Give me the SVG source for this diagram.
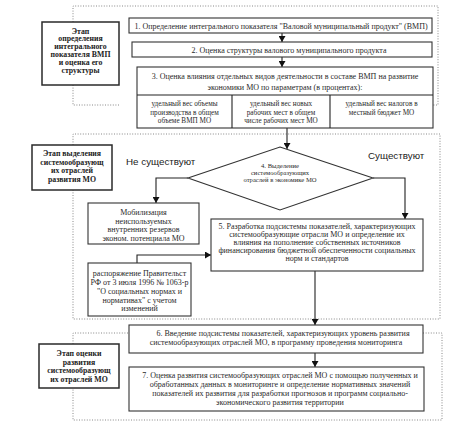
<svg xmlns="http://www.w3.org/2000/svg" width="460" height="429" viewBox="0 0 460 429">
<style>
.bg{fill:#fff}
.box{fill:#fff;stroke:#333;stroke-width:1.1}
.stage{fill:#fff;stroke:#2a2a2a;stroke-width:1.5}
.dot{fill:none;stroke:#888;stroke-width:1;stroke-dasharray:1 1.6}
.ln{fill:none;stroke:#222;stroke-width:1.1}
.t{font-family:"Liberation Serif","Times New Roman",serif;font-size:8px;fill:#2a2a2a;text-anchor:middle}
.s{font-size:7.2px}
.d{font-size:6.6px}
.b{font-family:"Liberation Serif","Times New Roman",serif;font-size:7.8px;font-weight:bold;fill:#222;text-anchor:middle}
.lab{font-family:"Liberation Sans",Arial,sans-serif;font-size:9.8px;fill:#222}
</style>
<defs>
<marker id="ah" markerUnits="userSpaceOnUse" markerWidth="6" markerHeight="7" refX="6" refY="3.5" orient="auto">
<path d="M0,0 L6,3.5 L0,7 z" fill="#111"/>
</marker>
</defs>
<rect class="bg" width="460" height="429"/>

<g id="stage-groups">
<path class="dot" d="M73,22 V6 H438 V105 H137 M119,105 H73 V85"/>
<path class="dot" d="M73,145 V134 H440 V319 H73 V190"/>
<path class="dot" d="M73,344 V333 H129 M423,333 H442 V420 H73 V388"/>
</g>

<g id="connectors">
<line class="ln" x1="282" y1="33" x2="282" y2="42" marker-end="url(#ah)"/>
<line class="ln" x1="282" y1="57" x2="282" y2="67" marker-end="url(#ah)"/>
<line class="ln" x1="287" y1="128" x2="287" y2="149" marker-end="url(#ah)"/>
<path class="ln" d="M188,178 H156 V203" marker-end="url(#ah)"/>
<path class="ln" d="M373,178 H405 V219" marker-end="url(#ah)"/>
<path class="ln" d="M137,263 V255 H211" marker-end="url(#ah)"/>
<line class="ln" x1="315" y1="271" x2="315" y2="325" marker-end="url(#ah)"/>
<line class="ln" x1="315" y1="353" x2="315" y2="367" marker-end="url(#ah)"/>
</g>

<g id="stage1">
<rect class="stage" x="42" y="22" width="77" height="63"/>
<text class="b" x="80.5" y="33.5">Этап</text>
<text class="b" x="80.5" y="41.3">определения</text>
<text class="b" x="80.5" y="49.1">интегрального</text>
<text class="b" x="80.5" y="56.9">показателя ВМП</text>
<text class="b" x="80.5" y="64.7">и оценка его</text>
<text class="b" x="80.5" y="72.5">структуры</text>
</g>

<g id="node1">
<rect class="box" x="129" y="18" width="303" height="15"/>
<text class="t" x="281" y="28.5">1.  Определение интегрального показателя "Валовой муниципальный продукт" (ВМП)</text>
</g>

<g id="node2">
<rect class="box" x="132" y="42" width="300" height="15"/>
<text class="t" x="289" y="52.5">2. Оценка структуры валового муниципального продукта</text>
</g>

<g id="node3">
<rect class="box" x="137" y="67" width="296" height="61"/>
<line class="ln" x1="137" y1="95" x2="433" y2="95"/>
<line class="ln" x1="232" y1="95" x2="232" y2="128"/>
<line class="ln" x1="330" y1="95" x2="330" y2="128"/>
<text class="t" x="285" y="79">3. Оценка влияния отдельных видов деятельности в составе ВМП  на развитие</text>
<text class="t" x="285" y="90">экономики МО по параметрам (в процентах):</text>
<text class="t s" x="184.5" y="106">удельный вес объемы</text>
<text class="t s" x="184.5" y="114.5">производства в общем</text>
<text class="t s" x="184.5" y="123">объеме ВМП МО</text>
<text class="t s" x="281" y="106">удельный вес   новых</text>
<text class="t s" x="281" y="114.5">рабочих мест в общем</text>
<text class="t s" x="281" y="123">числе рабочих мест МО</text>
<text class="t s" x="381.5" y="106">удельный вес  налогов в</text>
<text class="t s" x="381.5" y="114.5">местный бюджет МО</text>
</g>

<g id="stage2">
<rect class="stage" x="32" y="145" width="80" height="45"/>
<text class="b" x="72" y="156">Этап выделения</text>
<text class="b" x="72" y="164.5">системообразующ</text>
<text class="b" x="72" y="173">их отраслей</text>
<text class="b" x="72" y="181.5">развития МО</text>
</g>

<g id="node4">
<path class="box" d="M280,147 L373,178 L280,210 L188,178 Z"/>
<text class="t d" x="280" y="168">4. Выделение</text>
<text class="t d" x="280" y="175">системообразующих</text>
<text class="t d" x="280" y="182">отраслей в экономике МО</text>
</g>

<g id="labels">
<text class="lab" x="126" y="164.5">Не существуют</text>
<text class="lab" x="368" y="158.5">Существуют</text>
</g>

<g id="mobilization">
<rect class="box" x="88" y="203" width="111" height="41"/>
<text class="t" x="143.5" y="215">Мобилизация</text>
<text class="t" x="143.5" y="223.5">неиспользуемых</text>
<text class="t" x="143.5" y="232">внутренних резервов</text>
<text class="t" x="143.5" y="240.5">эконом. потенциала МО</text>
</g>

<g id="node5">
<rect class="box" x="211" y="219" width="212" height="52"/>
<text class="t" x="317" y="228.5">5. Разработка подсистемы показателей, характеризующих</text>
<text class="t" x="317" y="236.6">системообразующие отрасли МО и определение их</text>
<text class="t" x="317" y="244.7">влияния на пополнение собственных источников</text>
<text class="t" x="317" y="252.8">финансирования бюджетной обеспеченности социальных</text>
<text class="t" x="317" y="261">норм и стандартов</text>
</g>

<g id="decree">
<rect class="box" x="88" y="263" width="103" height="53"/>
<text class="t" x="139.5" y="276">распоряжение Правительст</text>
<text class="t" x="139.5" y="285">РФ от 3 июля 1996 № 1063-р</text>
<text class="t" x="139.5" y="294">"О социальных нормах и</text>
<text class="t" x="139.5" y="302.5">нормативах" с учетом</text>
<text class="t" x="139.5" y="311">изменений</text>
</g>

<g id="stage3">
<rect class="stage" x="39" y="344" width="80" height="44"/>
<text class="b" x="79" y="356">Этап оценки</text>
<text class="b" x="79" y="364.5">развития</text>
<text class="b" x="79" y="373">системообразующ</text>
<text class="b" x="79" y="381.5">их отраслей МО</text>
</g>

<g id="node6">
<rect class="box" x="129" y="325" width="294" height="28"/>
<text class="t" x="283" y="336">6. Введение подсистемы показателей, характеризующих уровень развития</text>
<text class="t" x="276" y="345">системообразующих отраслей МО, в программу проведения мониторинга</text>
</g>

<g id="node7">
<rect class="box" x="129" y="367" width="295" height="44"/>
<text class="t" x="280" y="377.5">7. Оценка развития системообразующих отраслей МО с помощью полученных и</text>
<text class="t" x="280" y="386.5">обработанных данных в мониторинге и определение нормативных значений</text>
<text class="t" x="280" y="395.5">показателей их развития для разработки прогнозов и программ социально-</text>
<text class="t" x="280" y="404.5">экономического развития территории</text>
</g>
</svg>
